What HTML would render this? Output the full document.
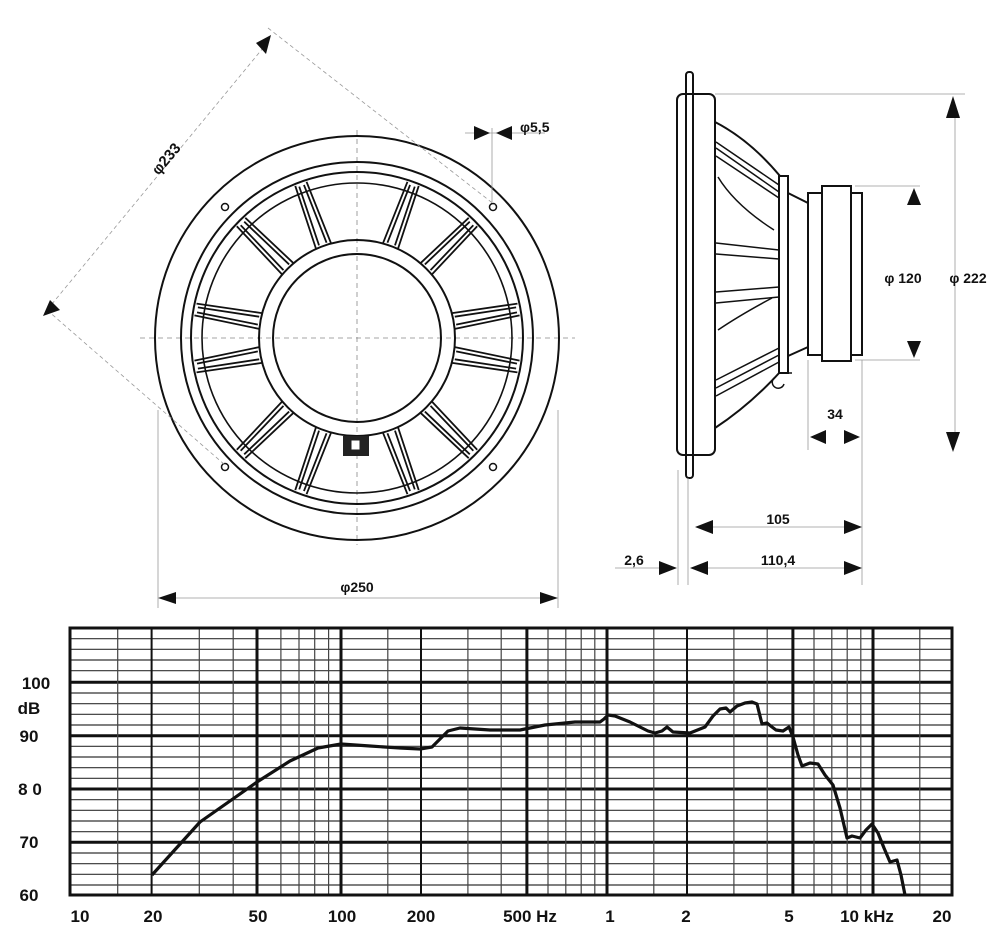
<!DOCTYPE html>
<html><head><meta charset="utf-8"><style>
html,body{margin:0;padding:0;background:#fff}
svg{display:block}
text{font-family:"Liberation Sans",sans-serif;font-weight:bold;fill:#111}
</style></head><body>
<svg width="1000" height="937" viewBox="0 0 1000 937" xmlns="http://www.w3.org/2000/svg">
<defs>
<g id="spoke">
 <path d="M455,330 L521,332 M455,346 L521,344 M457,334 L519,335.5 M457,342 L519,340.5" stroke="#111" stroke-width="1.8" fill="none"/>
</g>
</defs>
<!-- FRONT VIEW -->
<g fill="none" stroke="#111" stroke-width="2">
 <line x1="140" y1="338" x2="575" y2="338" stroke="#888" stroke-width="0.8" stroke-dasharray="5,4"/>
 <line x1="357" y1="130" x2="357" y2="545" stroke="#888" stroke-width="0.8" stroke-dasharray="5,4"/>
 <circle cx="357" cy="338" r="202"/>
 <circle cx="357" cy="338" r="176"/>
 <circle cx="357" cy="338" r="166"/>
 <circle cx="357" cy="338" r="155" stroke-width="1.6"/>
 <circle cx="357" cy="338" r="98"/>
 <circle cx="357" cy="338" r="84"/>
 <circle cx="225" cy="207" r="3.5" stroke-width="1.5"/>
 <circle cx="493" cy="207" r="3.5" stroke-width="1.5"/>
 <circle cx="225" cy="467" r="3.5" stroke-width="1.5"/>
 <circle cx="493" cy="467" r="3.5" stroke-width="1.5"/>
</g>
<use href="#spoke" transform="rotate(10 357 338)"/>
<use href="#spoke" transform="rotate(-10 357 338)"/>
<use href="#spoke" transform="rotate(45 357 338)"/>
<use href="#spoke" transform="rotate(-45 357 338)"/>
<use href="#spoke" transform="rotate(70 357 338)"/>
<use href="#spoke" transform="rotate(-70 357 338)"/>
<use href="#spoke" transform="rotate(110 357 338)"/>
<use href="#spoke" transform="rotate(-110 357 338)"/>
<use href="#spoke" transform="rotate(135 357 338)"/>
<use href="#spoke" transform="rotate(-135 357 338)"/>
<use href="#spoke" transform="rotate(170 357 338)"/>
<use href="#spoke" transform="rotate(190 357 338)"/>
<rect x="343" y="436" width="26" height="20" fill="#222"/>
<rect x="351" y="440" width="9" height="10" fill="#fff" stroke="#222"/>
<!-- front dims -->
<g stroke="#999" stroke-width="0.8" fill="none" stroke-dasharray="4,3">
 <line x1="268" y1="42" x2="47" y2="310"/>
 <line x1="268" y1="28" x2="495" y2="205"/>
 <line x1="47" y1="310" x2="225" y2="465"/>
 <line x1="465" y1="133" x2="545" y2="133" stroke-dasharray="none"/>
 <line x1="492" y1="128" x2="492" y2="202" stroke-dasharray="none"/>
 <line x1="158" y1="410" x2="158" y2="608" stroke-dasharray="none"/>
 <line x1="558" y1="410" x2="558" y2="608" stroke-dasharray="none"/>
 <line x1="170" y1="598" x2="546" y2="598" stroke-dasharray="none"/>
</g>
<g fill="#111">
 <polygon points="271,35 256,43 266,54"/>
 <polygon points="43,316 50,300 60,310"/>
 <polygon points="490,133 474,126 474,140"/>
 <polygon points="496,133 512,126 512,140"/>
 <polygon points="158,598 176,592 176,604"/>
 <polygon points="558,598 540,592 540,604"/>
</g>
<text x="170" y="162" font-size="15" transform="rotate(-50 170 162)" text-anchor="middle">φ233</text>
<text x="520" y="132" font-size="14">φ5,5</text>
<text x="357" y="592" font-size="14" text-anchor="middle">φ250</text>

<!-- SIDE VIEW -->
<g fill="none" stroke="#111" stroke-width="2">
 <rect x="686" y="72" width="7" height="406" rx="3"/>
 <rect x="677" y="94" width="38" height="361" rx="6"/>
 <path d="M715,122 Q750,140 780,176"/>
 <path d="M715,428 Q750,405 780,372"/>
 <rect x="779" y="176" width="9" height="197"/>
 <path d="M788,193 L808,203 M788,356 L808,347"/>
 <rect x="808" y="193" width="14" height="162"/>
 <rect x="822" y="186" width="29" height="175"/>
 <rect x="851" y="193" width="11" height="162"/>
</g>
<g fill="none" stroke="#111" stroke-width="1.5">
 <path d="M716,142 L779,185 M716,148 L779,192 M716,156 L779,198"/>
 <path d="M718,177 Q735,205 774,230"/>
 <path d="M716,243 L779,250 M716,254 L779,259"/>
 <path d="M716,292 L779,287 M716,303 L779,297"/>
 <path d="M718,330 Q740,315 772,298"/>
 <path d="M716,380 L779,348 M716,388 L779,355 M716,396 L779,362"/>
 <path d="M774,378 a6,6 0 1,0 10,6 M780,373 L792,373"/>
</g>
<!-- side dims -->
<g stroke="#999" stroke-width="0.8" fill="none">
 <line x1="715" y1="94" x2="965" y2="94"/>
 <line x1="955" y1="115" x2="955" y2="435"/>
 <line x1="855" y1="186" x2="920" y2="186"/>
 <line x1="855" y1="360" x2="920" y2="360"/>
 <line x1="808" y1="360" x2="808" y2="450"/>
 <line x1="862" y1="360" x2="862" y2="585"/>
 <line x1="678" y1="470" x2="678" y2="585"/>
 <line x1="688" y1="478" x2="688" y2="585"/>
 <line x1="710" y1="527" x2="848" y2="527"/>
 <line x1="706" y1="568" x2="848" y2="568"/>
 <line x1="615" y1="568" x2="665" y2="568"/>
</g>
<g fill="#111">
 <polygon points="953,96 946,118 960,118"/>
 <polygon points="953,452 946,432 960,432"/>
 <polygon points="914,188 907,205 921,205"/>
 <polygon points="914,358 907,341 921,341"/>
 <polygon points="810,437 826,430 826,444"/>
 <polygon points="860,437 844,430 844,444"/>
 <polygon points="695,527 713,520 713,534"/>
 <polygon points="862,527 844,520 844,534"/>
 <polygon points="690,568 708,561 708,575"/>
 <polygon points="862,568 844,561 844,575"/>
 <polygon points="677,568 659,561 659,575"/>
</g>
<g font-size="14">
 <text x="903" y="283" text-anchor="middle">φ 120</text>
 <text x="968" y="283" text-anchor="middle">φ 222</text>
 <text x="835" y="419" text-anchor="middle">34</text>
 <text x="778" y="524" text-anchor="middle">105</text>
 <text x="778" y="565" text-anchor="middle">110,4</text>
 <text x="634" y="565" text-anchor="middle">2,6</text>
</g>

<!-- GRAPH -->
<g stroke="#333" stroke-width="1.2">
 <line x1="70" y1="638.7" x2="952" y2="638.7"/><line x1="70" y1="649.3" x2="952" y2="649.3"/><line x1="70" y1="660" x2="952" y2="660"/><line x1="70" y1="670.7" x2="952" y2="670.7"/>
 <line x1="70" y1="693" x2="952" y2="693"/><line x1="70" y1="703.7" x2="952" y2="703.7"/><line x1="70" y1="714.3" x2="952" y2="714.3"/><line x1="70" y1="725" x2="952" y2="725"/>
 <line x1="70" y1="746.3" x2="952" y2="746.3"/><line x1="70" y1="757" x2="952" y2="757"/><line x1="70" y1="767.7" x2="952" y2="767.7"/><line x1="70" y1="778.3" x2="952" y2="778.3"/>
 <line x1="70" y1="799.7" x2="952" y2="799.7"/><line x1="70" y1="810.3" x2="952" y2="810.3"/><line x1="70" y1="821" x2="952" y2="821"/><line x1="70" y1="831.7" x2="952" y2="831.7"/>
 <line x1="70" y1="853" x2="952" y2="853"/><line x1="70" y1="863.7" x2="952" y2="863.7"/><line x1="70" y1="874.3" x2="952" y2="874.3"/><line x1="70" y1="885" x2="952" y2="885"/>
</g>
<g stroke="#111" stroke-width="3">
 <line x1="70" y1="682.3" x2="952" y2="682.3"/><line x1="70" y1="735.7" x2="952" y2="735.7"/><line x1="70" y1="789" x2="952" y2="789"/><line x1="70" y1="842.3" x2="952" y2="842.3"/>
</g>
<g stroke="#444" stroke-width="1.2">
 <line x1="117.7" y1="628" x2="117.7" y2="895"/><line x1="199.3" y1="628" x2="199.3" y2="895"/><line x1="233.2" y1="628" x2="233.2" y2="895"/><line x1="280.9" y1="628" x2="280.9" y2="895"/><line x1="299" y1="628" x2="299" y2="895"/><line x1="314.7" y1="628" x2="314.7" y2="895"/><line x1="328.6" y1="628" x2="328.6" y2="895"/>
 <line x1="387.8" y1="628" x2="387.8" y2="895"/><line x1="467.9" y1="628" x2="467.9" y2="895"/><line x1="501.2" y1="628" x2="501.2" y2="895"/><line x1="548" y1="628" x2="548" y2="895"/><line x1="565.8" y1="628" x2="565.8" y2="895"/><line x1="581.2" y1="628" x2="581.2" y2="895"/><line x1="594.8" y1="628" x2="594.8" y2="895"/>
 <line x1="653.8" y1="628" x2="653.8" y2="895"/><line x1="733.9" y1="628" x2="733.9" y2="895"/><line x1="767.2" y1="628" x2="767.2" y2="895"/><line x1="814" y1="628" x2="814" y2="895"/><line x1="831.8" y1="628" x2="831.8" y2="895"/><line x1="847.2" y1="628" x2="847.2" y2="895"/><line x1="860.8" y1="628" x2="860.8" y2="895"/>
 <line x1="919.8" y1="628" x2="919.8" y2="895"/>
</g>
<g stroke="#111" stroke-width="2">
 <line x1="151.6" y1="628" x2="151.6" y2="895"/><line x1="421" y1="628" x2="421" y2="895"/><line x1="687" y1="628" x2="687" y2="895"/>
</g>
<g stroke="#111" stroke-width="3">
 <line x1="257" y1="628" x2="257" y2="895"/><line x1="341" y1="628" x2="341" y2="895"/><line x1="526.9" y1="628" x2="526.9" y2="895"/><line x1="607" y1="628" x2="607" y2="895"/><line x1="792.9" y1="628" x2="792.9" y2="895"/><line x1="873" y1="628" x2="873" y2="895"/>
</g>
<rect x="70" y="628" width="882" height="267" fill="none" stroke="#111" stroke-width="3"/>
<polyline fill="none" stroke="#111" stroke-width="3.2" stroke-linejoin="round" points="152,875 200,822 257,782 290,761 318,748 341,744 370,746 400,748 420,749 432,747 448,731 460,728 490,730 520,730 545,725 575,722 600,722 604,719 608,715 615,716 630,722 648,731 655,733 662,731 667,727 673,732 690,733 705,727 713,716 720,709 726,708 730,712 737,706 745,703 752,702 757,704 762,724 767,723 772,727 776,730 783,731 789,727 793,737 798,755 802,766 810,763 818,764 825,775 833,785 840,808 847,838 852,836 860,838 866,830 872,824 878,833 884,848 890,862 897,860 901,875 905,895"/>
<g font-size="17">
 <text x="36" y="689" text-anchor="middle">100</text>
 <text x="29" y="714" text-anchor="middle">dB</text>
 <text x="29" y="742" text-anchor="middle">90</text>
 <text x="30" y="795" text-anchor="middle">8 0</text>
 <text x="29" y="848" text-anchor="middle">70</text>
 <text x="29" y="901" text-anchor="middle">60</text>
 <text x="80" y="922" text-anchor="middle">10</text>
 <text x="153" y="922" text-anchor="middle">20</text>
 <text x="258" y="922" text-anchor="middle">50</text>
 <text x="342" y="922" text-anchor="middle">100</text>
 <text x="421" y="922" text-anchor="middle">200</text>
 <text x="530" y="922" text-anchor="middle">500 Hz</text>
 <text x="610" y="922" text-anchor="middle">1</text>
 <text x="686" y="922" text-anchor="middle">2</text>
 <text x="789" y="922" text-anchor="middle">5</text>
 <text x="867" y="922" text-anchor="middle">10 kHz</text>
 <text x="942" y="922" text-anchor="middle">20</text>
</g>
</svg>
</body></html>
